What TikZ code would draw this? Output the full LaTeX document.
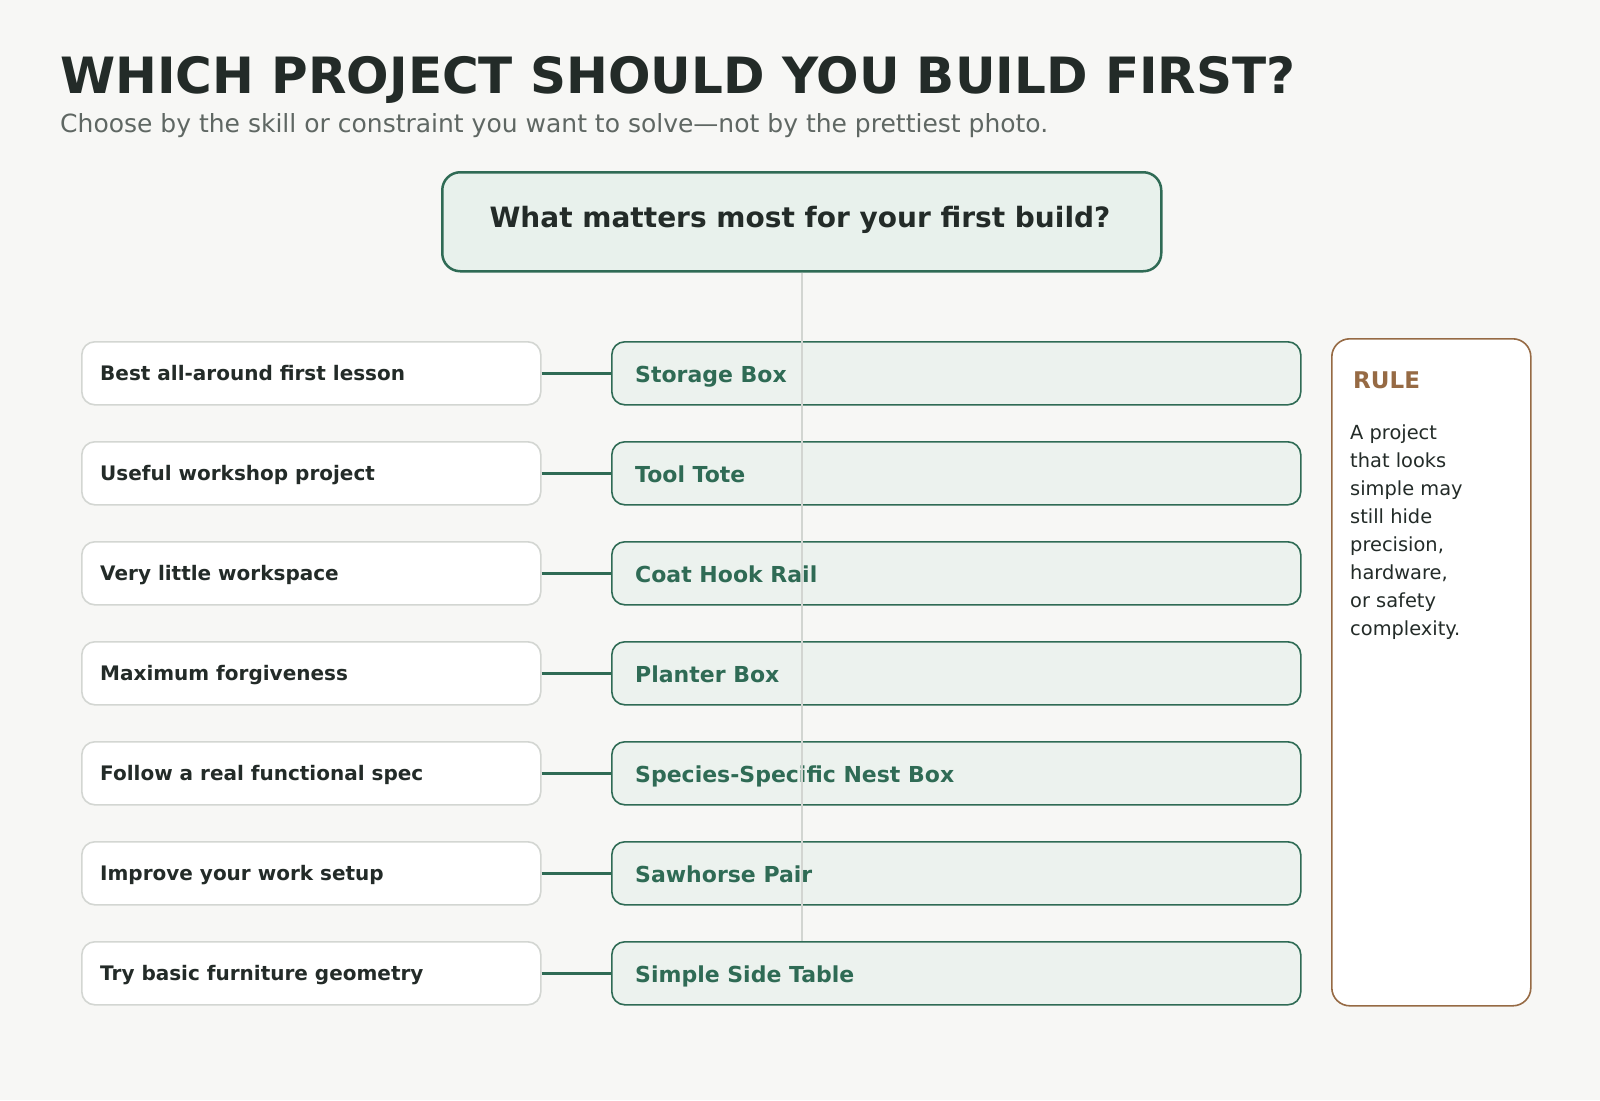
\documentclass[tikz,border=0pt]{standalone}
\usepackage{fontspec}
\setmainfont{DejaVu Sans}
\definecolor{bg}{HTML}{F7F7F5}
\definecolor{ink}{HTML}{232B28}
\definecolor{subink}{HTML}{5F6763}
\definecolor{green}{HTML}{2F6B55}
\definecolor{qfill}{HTML}{E8F1EC}
\definecolor{rfill}{HTML}{ECF2EE}
\definecolor{lborder}{HTML}{D3D6D2}
\definecolor{vline}{HTML}{D2D5D1}
\definecolor{brown}{HTML}{966A44}
\begin{document}
\begin{tikzpicture}[x=1pt,y=-1pt,
  qbox/.style={draw=green, line width=2.5pt, fill=qfill, rounded corners=18pt, inner sep=0pt, anchor=north west, minimum width=719pt, minimum height=99pt},
  lbox/.style={draw=lborder, line width=1.6pt, fill=white, rounded corners=13pt, inner sep=0pt, anchor=north west, minimum width=459pt, minimum height=63pt},
  rbox/.style={draw=green, line width=1.6pt, fill=rfill, rounded corners=13pt, inner sep=0pt, anchor=north west, minimum width=689pt, minimum height=63pt},
  rulebox/.style={draw=brown, line width=1.6pt, fill=white, rounded corners=18pt, inner sep=0pt, anchor=north west, minimum width=199pt, minimum height=667pt},
  ltext/.style={anchor=base west, inner sep=0pt, text=ink, font=\bfseries\fontsize{20}{24}\selectfont},
  rtext/.style={anchor=base west, inner sep=0pt, text=green, font=\bfseries\fontsize{22}{26}\selectfont},
  conn/.style={draw=green, line width=3pt},
  spine/.style={draw=vline, line width=2.5pt}
]
\fill[bg] (0,0) rectangle (1600,1100);
\useasboundingbox (0,0) rectangle (1600,1100);

\node[anchor=base west, inner sep=0pt, text=ink, font=\bfseries\fontsize{50}{60}\selectfont] (title) at (60,93) {WHICH PROJECT SHOULD YOU BUILD FIRST?};
\node[anchor=base west, inner sep=0pt, text=subink, font=\fontsize{25}{30}\selectfont] (subtitle) at (60,132) {Choose by the skill or constraint you want to solve—not by the prettiest photo.};

\node[qbox] (q) at (441,171) {};
\node[anchor=base, inner sep=0pt, text=ink, font=\bfseries\fontsize{28}{34}\selectfont] (qtext) at (800,227) {What matters most for your first build?};

\foreach \lt/\rt [count=\i from 0] in {
  Best all-around first lesson/Storage Box,
  Useful workshop project/Tool Tote,
  Very little workspace/Coat Hook Rail,
  Maximum forgiveness/Planter Box,
  Follow a real functional spec/Species-Specific Nest Box,
  Improve your work setup/Sawhorse Pair,
  Try basic furniture geometry/Simple Side Table} {
  \pgfmathsetmacro\yy{341+100*\i}
  \node[lbox] (L\i) at (81,\yy) {};
  \node[ltext] (LT\i) at (100,\yy+39) {\lt};
  \node[rbox] (R\i) at (611,\yy) {};
  \node[rtext] (RT\i) at (635,\yy+41) {\rt};
  \draw[conn] (L\i.east) -- (R\i.west);
}

\draw[spine] (q.south) -- (q.south |- R6.north);

\node[rulebox] (rule) at (1331,338) {};
\node[anchor=base west, inner sep=0pt, text=brown, font=\bfseries\fontsize{23}{28}\selectfont] (ruletitle) at (1353,388) {RULE};
\node[anchor=north west, inner sep=0pt, text=ink, align=left, font=\fontsize{19.4}{27.9}\selectfont] (ruletext) at (1350,425) {A project\\that looks\\simple may\\still hide\\precision,\\hardware,\\or safety\\complexity.};
\end{tikzpicture}
\end{document}
